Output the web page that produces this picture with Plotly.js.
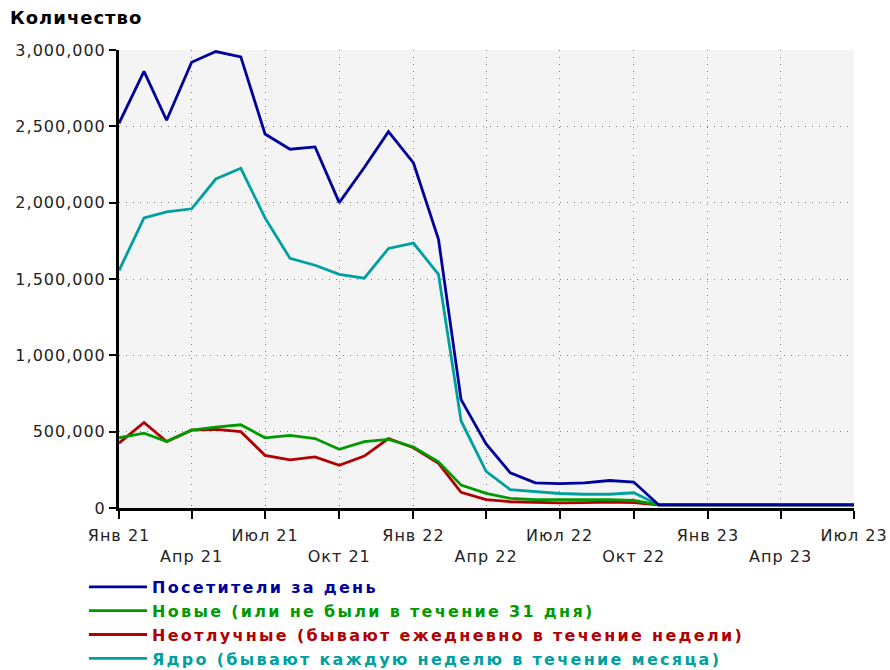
<!DOCTYPE html>
<html>
<head>
<meta charset="utf-8">
<script src="https://cdn.plot.ly/plotly-3.0.1.min.js"></script>
<style>
  html, body { margin: 0; padding: 0; background: #fff; }
  #chart { width: 890px; height: 670px; }
  .xtick text, .ytick text { letter-spacing: 1px; }
  .legendtext { letter-spacing: 2.3px; }
  .gtitle { letter-spacing: 1px; }
</style>
</head>
<body>
<div id="chart"></div>
<script>
// Monthly dates, Jan 2021 .. Jul 2023
const months = [
  '2021-01-01','2021-02-01','2021-03-01','2021-04-01','2021-05-01','2021-06-01',
  '2021-07-01','2021-08-01','2021-09-01','2021-10-01','2021-11-01','2021-12-01',
  '2022-01-01','2022-02-01','2022-03-01','2022-04-01','2022-05-01','2022-06-01',
  '2022-07-01','2022-08-01','2022-09-01','2022-10-01','2022-11-01','2022-12-01',
  '2023-01-01','2023-02-01','2023-03-01','2023-04-01','2023-05-01','2023-06-01',
  '2023-07-01'
];

// Посетители за день
const visitors = [
  2520000, 2860000, 2540000, 2920000, 2990000, 2955000,
  2450000, 2350000, 2365000, 2000000, 2230000, 2465000,
  2260000, 1760000, 710000, 420000, 230000, 165000,
  160000, 165000, 180000, 170000, 20000, 20000,
  20000, 20000, 20000, 20000, 20000, 20000,
  20000
];

// Новые (или не были в течение 31 дня)
const newUsers = [
  460000, 490000, 435000, 510000, 530000, 545000,
  460000, 475000, 455000, 385000, 435000, 450000,
  400000, 303000, 150000, 96000, 63000, 55000,
  55000, 55000, 55000, 50000, 20000, 20000,
  20000, 20000, 20000, 20000, 20000, 20000,
  20000
];

// Неотлучные (бывают ежедневно в течение недели)
const daily = [
  425000, 560000, 435000, 510000, 515000, 500000,
  345000, 315000, 335000, 280000, 340000, 455000,
  395000, 293000, 103000, 55000, 41000, 38000,
  33000, 35000, 38000, 35000, 20000, 20000,
  20000, 20000, 20000, 20000, 20000, 20000,
  20000
];

// Ядро (бывают каждую неделю в течение месяца)
const core = [
  1555000, 1900000, 1940000, 1960000, 2155000, 2225000,
  1900000, 1635000, 1590000, 1530000, 1505000, 1700000,
  1735000, 1530000, 570000, 240000, 120000, 105000,
  95000, 90000, 90000, 100000, 20000, 20000,
  20000, 20000, 20000, 20000, 20000, 20000,
  20000
];

const tickDates = [
  '2021-01-01','2021-04-01','2021-07-01','2021-10-01',
  '2022-01-01','2022-04-01','2022-07-01','2022-10-01',
  '2023-01-01','2023-04-01','2023-07-01'
];
const tickLabels = [
  'Янв 21','Апр 21','Июл 21','Окт 21',
  'Янв 22','Апр 22','Июл 22','Окт 22',
  'Янв 23','Апр 23','Июл 23'
];
const yTicks = [0, 500000, 1000000, 1500000, 2000000, 2500000, 3000000];

const names = [
  'Посетители за день',
  'Новые (или не были в течение 31 дня)',
  'Неотлучные (бывают ежедневно в течение недели)',
  'Ядро (бывают каждую неделю в течение месяца)'
];
const colors = ['#00009c', '#009a00', '#b00000', '#00a0a0'];

function mk(y, i, rank) {
  return {
    x: months, y: y, type: 'scatter', mode: 'lines',
    name: '<span style="color:' + colors[i] + '">' + names[i] + '</span>',
    line: { color: colors[i], width: 2.8 },
    legendrank: rank, hoverinfo: 'skip'
  };
}

// draw order: core, daily, new, visitors (visitors on top)
const data = [
  mk(core, 3, 4),
  mk(daily, 2, 3),
  mk(newUsers, 1, 2),
  mk(visitors, 0, 1)
];

const layout = {
  width: 890, height: 670,
  margin: { l: 119, r: 36, t: 50, b: 162, autoexpand: false },
  paper_bgcolor: '#ffffff',
  plot_bgcolor: '#f4f4f4',
  font: { family: 'DejaVu Sans, sans-serif', size: 16, color: '#222' },
  title: {
    text: 'Количество',
    font: { family: 'DejaVu Sans, sans-serif', size: 18, weight: 'bold', color: '#000' },
    x: 10 / 890, xanchor: 'left', xref: 'container',
    y: 1 - 18 / 670, yanchor: 'middle', yref: 'container'
  },
  xaxis: {
    type: 'date',
    range: ['2021-01-01', '2023-07-01'],
    tickmode: 'array',
    tickvals: tickDates,
    ticktext: tickLabels.map((t, i) => (i % 2 === 1 ? '<br>' + t : t)),
    tickangle: 0,
    ticks: 'outside', ticklen: 8, tickwidth: 2, tickcolor: '#000',
    ticklabelstandoff: 3,
    showline: true, linewidth: 3, linecolor: '#000',
    showgrid: true, gridcolor: '#808080', griddash: '1px,6px', gridwidth: 1,
    zeroline: false, automargin: false,
    tickfont: { family: 'DejaVu Sans, sans-serif', size: 16, color: '#222' },
    fixedrange: true
  },
  yaxis: {
    range: [0, 3000000],
    tickmode: 'array',
    tickvals: yTicks,
    tickformat: ',d',
    ticks: 'outside', ticklen: 7, tickwidth: 2, tickcolor: '#000',
    showline: true, linewidth: 3, linecolor: '#000',
    showgrid: true, gridcolor: '#808080', griddash: '1px,6px', gridwidth: 1,
    zeroline: false, automargin: false,
    tickfont: { family: 'DejaVu Sans, sans-serif', size: 16, color: '#222' },
    fixedrange: true
  },
  showlegend: true,
  legend: {
    xref: 'container', yref: 'container',
    x: 84 / 890, xanchor: 'left',
    y: 1 - 570 / 670, yanchor: 'top',
    orientation: 'v',
    itemwidth: 58,
    bgcolor: 'rgba(0,0,0,0)',
    borderwidth: 0,
    font: { family: 'DejaVu Sans, sans-serif', size: 16, weight: 'bold' },
    itemclick: false, itemdoubleclick: false
  }
};

Plotly.newPlot('chart', data, layout, { displayModeBar: false, staticPlot: true });
</script>
</body>
</html>
